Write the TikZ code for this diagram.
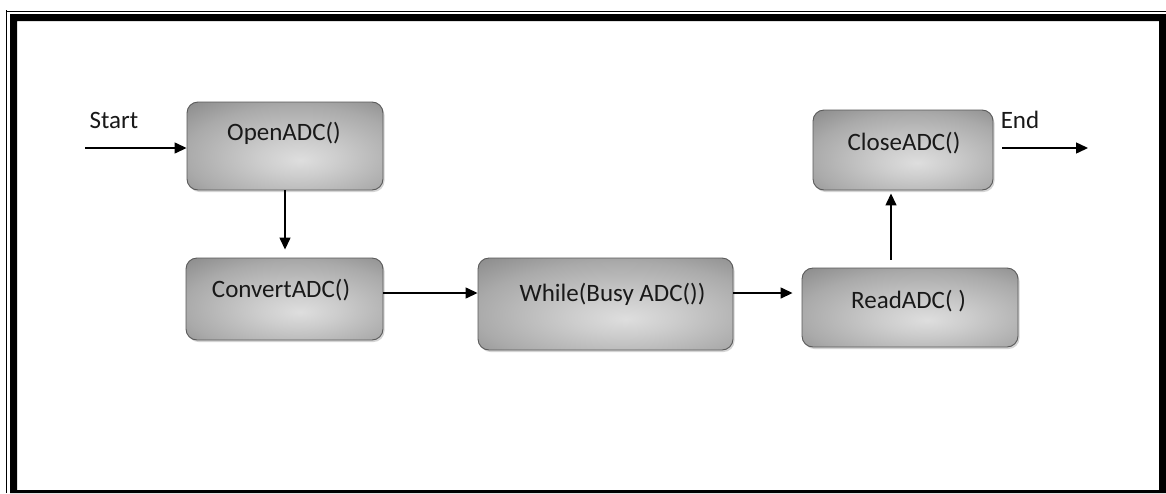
\documentclass[tikz,border=0pt]{standalone}
\usepackage{fontspec}
\setmainfont{Carlito}
\usetikzlibrary{arrows.meta,shadows,calc}

\definecolor{shC}{RGB}{222,222,222}
\definecolor{shL}{RGB}{205,205,205}
\definecolor{shM}{RGB}{170,170,170}
\definecolor{shE}{RGB}{128,128,128}
\definecolor{shD}{RGB}{100,100,100}
\definecolor{boxline}{RGB}{90,90,90}
\definecolor{txt}{RGB}{25,25,25}

% soft metallic fill of the process boxes: light lower centre, dark rim
\pgfdeclareradialshading{boxshade}{\pgfpoint{4bp}{-8bp}}{%
  color(0bp)=(shC); color(10bp)=(shL); color(28bp)=(shM);
  color(44bp)=(shE); color(56bp)=(shD); color(80bp)=(shD)}

\begin{document}
\begin{tikzpicture}[x=1pt,y=-1pt,
  procbox/.style={rounded corners=11pt, draw=boxline, line width=0.9pt,
    shading=boxshade, inner sep=0pt,
    drop shadow={shadow xshift=1.5pt, shadow yshift=-2pt, opacity=0.3, fill=black!55}},
  lbl/.style={anchor=base, inner sep=0pt, text=txt,
    font=\fontsize{25}{30}\selectfont},
  arr/.style={line width=1.4pt, -{Triangle[length=12pt,width=11pt]}}]

\useasboundingbox (0,0) rectangle (1166,493);

% page frame: thin outer rule plus heavy inner rule
\fill[white] (0,0) rectangle (1166,493);
\draw[line width=1.3pt] (6.6,493) -- (6.6,10) (6,11.6) -- (1166,11.6);
\fill[black, even odd rule] (10,14) rectangle (1166,493) (17,21) rectangle (1159,490);

% process boxes
\node[procbox, minimum width=196pt, minimum height=88pt] (open)    at (285,146)   {};
\node[procbox, minimum width=197pt, minimum height=82pt] (convert) at (284.5,299) {};
\node[procbox, minimum width=255pt, minimum height=92pt] (while)   at (605.5,304) {};
\node[procbox, minimum width=180pt, minimum height=80pt] (close)   at (903,150)   {};
\node[procbox, minimum width=216pt, minimum height=79pt] (read)    at (910,307.5) {};

% box captions
\node[lbl] (open-t)    at (284,140)   {OpenADC()};
\node[lbl] (convert-t) at (281,297)   {ConvertADC()};
\node[lbl] (while-t)   at (612.5,301) {While(Busy ADC())};
\node[lbl] (close-t)   at (904,150)   {CloseADC()};
\node[lbl] (read-t)    at (908.5,308) {ReadADC( )};

% start / end labels
\node[lbl] (start-t) at (114,128)  {Start};
\node[lbl] (end-t)   at (1020,128) {End};

% connector anchors
\coordinate (startpt) at (85,148);
\coordinate (endpt)   at (1088,148);
\coordinate (row)     at (0,293);
\coordinate (col)     at (891,0);

% flow
\draw[arr] (startpt) -- (startpt -| open.west);
\draw[arr, shorten >=8pt] (open.south) -- (open.south |- convert.north);
\draw[arr] (convert.east |- row) -- (while.west |- row);
\draw[arr, shorten >=9pt] (while.east |- row) -- (read.west |- row);
\draw[arr, shorten <=8pt, shorten >=3pt] (read.north -| col) -- (close.south -| col);
\draw[arr] ($(close.east |- endpt)+(9,0)$) -- (endpt);
\end{tikzpicture}
\end{document}
